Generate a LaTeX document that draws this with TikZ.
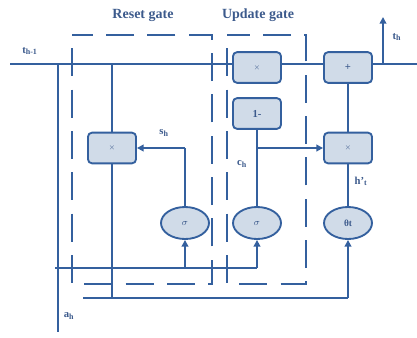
\documentclass[tikz,border=0pt]{standalone}
\usepackage{fontspec}
\setmainfont{Liberation Serif}
\usetikzlibrary{arrows.meta,shapes.geometric}
\definecolor{ln}{RGB}{52,96,158}
\definecolor{bf}{RGB}{208,219,232}
\definecolor{tx}{RGB}{60,90,140}
\tikzset{
  wire/.style={draw=ln,line width=1.5pt},
  arr/.style={wire,-{Triangle[length=5pt,width=5pt]}},
  gatebox/.style={draw=ln,dash pattern=on 21pt off 10pt,dash phase=-10pt,line width=1.4pt},
  opbox/.style={draw=ln,fill=bf,line width=1.4pt,rounded corners=3pt,minimum width=36pt,minimum height=23pt,inner sep=0pt,text=tx,font=\bfseries\footnotesize},
  opell/.style={ellipse,draw=ln,fill=bf,line width=1.4pt,minimum width=36pt,minimum height=24pt,inner sep=0pt,text=tx,font=\bfseries\scriptsize},
  lab/.style={text=tx,font=\bfseries\footnotesize,inner sep=0pt},
  title/.style={text=tx,font=\bfseries\fontsize{10.5}{12}\selectfont,inner sep=0pt}
}
\begin{document}
\begin{tikzpicture}[x=0.75pt,y=-0.75pt]
\useasboundingbox (0,0) rectangle (417,337);
% gate boxes
\draw[gatebox] (72,35) rectangle (212,284);
\draw[gatebox] (227,35) rectangle (306,284);
\node[title] (tr) at (143,15) {Reset gate};
\node[title] (tu) at (258,15) {Update gate};
% coordinates
\coordinate (L0) at (10,64);
\coordinate (R0) at (417,64);
\coordinate (Vtop) at (58,64);
\coordinate (Vbot) at (58,332);
\coordinate (Rtop) at (112,64);
\coordinate (Ytop) at (383,64);
\coordinate (Yend) at (383,17);
\coordinate (A1) at (55,268);
\coordinate (A1e) at (257,268);
\coordinate (A1m) at (185,268);
\coordinate (B1) at (83,298);
\coordinate (B1e) at (348,298);
\coordinate (Rbot) at (112,298);
\coordinate (S1) at (185,148);
\coordinate (C1) at (257,148);
% main line
\draw[wire] (L0) -- (R0);
\draw[wire] (Vtop) -- (Vbot);
% nodes
\node[opbox] (rx) at (112,148) {\tiny$\times$};
\node[opbox] (ux) at (257,67.5) {\tiny$\times$};
\node[opbox] (om) at (257,113.5) {1-};
\node[opbox] (pl) at (348,67.5) {+};
\node[opbox] (mx) at (348,148) {\tiny$\times$};
\node[opell] (sr) at (185,223) {$\sigma$};
\node[opell] (su) at (257,223) {$\sigma$};
\node[opell] (th) at (348,223) {θt};
% connectors
\draw[wire] (Rtop) -- (rx.north);
\draw[wire] (rx.south) -- (Rbot);
\draw[wire] (A1) -- (A1e);
\draw[arr] (A1e) -- (su.south);
\draw[arr] (A1m) -- (sr.south);
\draw[wire] (B1) -- (B1e);
\draw[arr] (B1e) -- (th.south);
\draw[wire] (sr.north) -- (S1);
\draw[arr] (S1) -- (rx.east);
\draw[wire] (su.north) -- (om.south);
\draw[arr] (C1) -- (mx.west);
\draw[wire] (pl.south) -- (mx.north);
\draw[wire] (mx.south) -- (th.north);
\draw[arr] (Ytop) -- (Yend);
% labels
\node[lab] (lt1) at (30,51) {t\textsubscript{h-1}};
\node[lab] (lth) at (397,37) {t\textsubscript{h}};
\node[lab] (lsh) at (164,133) {s\textsubscript{h}};
\node[lab] (lch) at (242,164) {c\textsubscript{h}};
\node[lab] (lhp) at (361,181) {h'\textsubscript{t}};
\node[lab] (lah) at (69,316) {a\textsubscript{h}};
\end{tikzpicture}
\end{document}
